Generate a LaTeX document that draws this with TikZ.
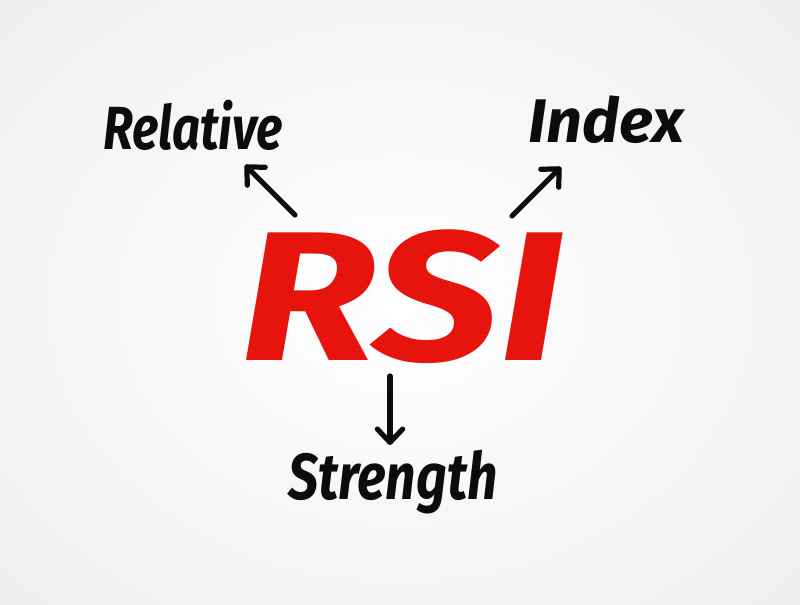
\documentclass[tikz,border=0pt]{standalone}
\usepackage{fontspec}
\setmainfont{Fira Sans}
\usetikzlibrary{arrows.meta}
\definecolor{ink}{RGB}{12,12,12}
\definecolor{rsired}{RGB}{230,20,12}
\definecolor{edgegray}{RGB}{234,234,238}
\tikzset{
  word/.style={inner sep=0pt, outer sep=0pt, text=ink, font=\bfseries\itshape, anchor=base west},
  marker/.style={draw=ink, line width=3.9pt, line cap=round, line join=round,
    -{Straight Barb[round, length=10pt, width=19pt, line width=3.9pt]}}
}
\begin{document}
\begin{tikzpicture}[x=0.75pt,y=-0.75pt]
\useasboundingbox (0,0) rectangle (800,605);
\shade[inner color=white, outer color=edgegray] (-300,-250) rectangle (1100,855);
\node[word] (rel) at (103,150) {\resizebox{135pt}{37pt}{Relative}};
\node[word] (idx) at (528,143) {\resizebox{117pt}{35pt}{Index}};
\node[word] (str) at (288,500) {\resizebox{157pt}{37pt}{Strength}};
\node[word, text=rsired] (rsi) at (240,361) {\resizebox{243pt}{98pt}{RSI}};
\coordinate (a1s) at (295,215);
\coordinate (a1e) at (245,165);
\coordinate (a2s) at (512,216);
\coordinate (a2e) at (561,167);
\coordinate (a3s) at (390,376);
\coordinate (a3e) at (390,445);
\draw[marker] (a1s) -- (a1e);
\draw[marker] (a2s) -- (a2e);
\draw[marker] (a3s) -- (a3e);
\end{tikzpicture}
\end{document}
